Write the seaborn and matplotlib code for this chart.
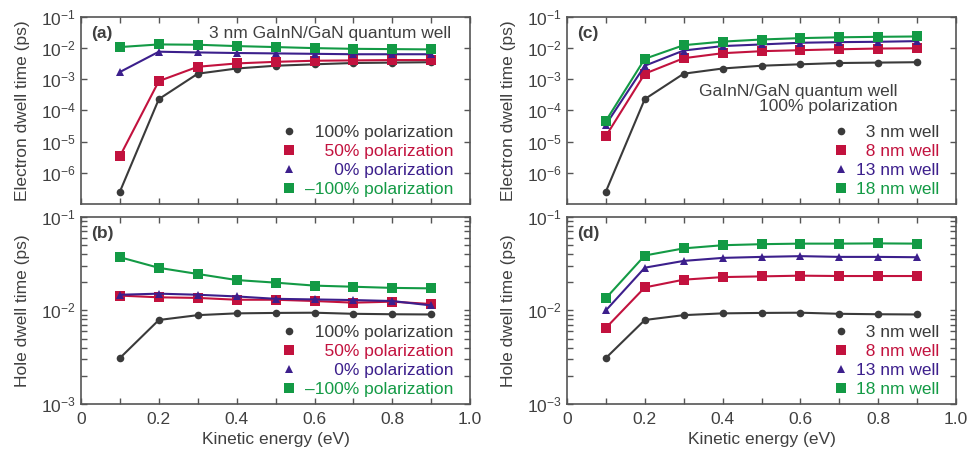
import matplotlib
matplotlib.use('Agg')
import matplotlib.pyplot as plt
import matplotlib.ticker as mticker
from matplotlib.lines import Line2D
import numpy as np
import pandas as pd
import seaborn as sns

# kinetic energy (eV)
energy = [0.1, 0.2, 0.3, 0.4, 0.5, 0.6, 0.7, 0.8, 0.9]

# (a) electron dwell time, 3 nm well, by polarization
e_pol100 = [2.5e-7, 2.3e-4, 1.5e-3, 2.2e-3, 2.7e-3, 3.0e-3, 3.3e-3, 3.4e-3, 3.5e-3]
e_pol50 = [3.4e-6, 8.7e-4, 2.5e-3, 3.2e-3, 3.6e-3, 3.9e-3, 4.0e-3, 4.1e-3, 4.1e-3]
e_pol0 = [1.7e-3, 7.6e-3, 7.2e-3, 6.9e-3, 6.7e-3, 6.5e-3, 6.3e-3, 6.3e-3, 6.3e-3]
e_polm100 = [1.07e-2, 1.3e-2, 1.27e-2, 1.15e-2, 1.07e-2, 9.9e-3, 9.4e-3, 9.2e-3, 9.0e-3]

# (b) hole dwell time, 3 nm well, by polarization
h_pol100 = [3.1e-3, 7.9e-3, 8.9e-3, 9.3e-3, 9.4e-3, 9.45e-3, 9.2e-3, 9.1e-3, 9.05e-3]
h_pol50 = [1.44e-2, 1.38e-2, 1.36e-2, 1.30e-2, 1.30e-2, 1.26e-2, 1.21e-2, 1.24e-2, 1.17e-2]
h_pol0 = [1.47e-2, 1.51e-2, 1.47e-2, 1.41e-2, 1.33e-2, 1.31e-2, 1.29e-2, 1.26e-2, 1.13e-2]
h_polm100 = [3.7e-2, 2.85e-2, 2.45e-2, 2.11e-2, 1.98e-2, 1.84e-2, 1.79e-2, 1.74e-2, 1.72e-2]

# (c) electron dwell time, 100% polarization, by well width
e_w3 = e_pol100
e_w8 = [1.5e-5, 1.5e-3, 4.7e-3, 6.8e-3, 7.9e-3, 8.5e-3, 9.1e-3, 9.6e-3, 9.8e-3]
e_w13 = [3.5e-5, 2.7e-3, 8.3e-3, 1.15e-2, 1.3e-2, 1.47e-2, 1.54e-2, 1.58e-2, 1.66e-2]
e_w18 = [4.6e-5, 4.5e-3, 1.23e-2, 1.6e-2, 1.87e-2, 2.07e-2, 2.2e-2, 2.28e-2, 2.34e-2]

# (d) hole dwell time, 100% polarization, by well width
h_w3 = h_pol100
h_w8 = [6.5e-3, 1.76e-2, 2.13e-2, 2.27e-2, 2.31e-2, 2.35e-2, 2.33e-2, 2.33e-2, 2.33e-2]
h_w13 = [1.0e-2, 2.86e-2, 3.38e-2, 3.64e-2, 3.73e-2, 3.8e-2, 3.73e-2, 3.73e-2, 3.7e-2]
h_w18 = [1.35e-2, 3.86e-2, 4.6e-2, 4.97e-2, 5.1e-2, 5.17e-2, 5.17e-2, 5.2e-2, 5.17e-2]

pol_labels = ['100% polarization', '50% polarization', '0% polarization', '\u2013100% polarization']
well_labels = ['3 nm well', '8 nm well', '13 nm well', '18 nm well']
# padding so the legend texts line up on the right
pol_pad = ['  ', '    ', '      ', '']
well_pad = ['  ', '  ', '', '']

colors = ['#3a3a3a', '#c2123e', '#3c1f8c', '#139a45']
markers = ['o', 's', '^', 's']
msizes = [5.5, 7, 6, 7]

sns.set_style('ticks')
plt.rcParams['font.family'] = ['Liberation Sans', 'DejaVu Sans']
plt.rcParams['mathtext.default'] = 'regular'
plt.rcParams['xtick.direction'] = 'in'
plt.rcParams['ytick.direction'] = 'in'
plt.rcParams['axes.edgecolor'] = '#555555'
plt.rcParams['text.color'] = '#404040'
plt.rcParams['axes.labelcolor'] = '#404040'
plt.rcParams['xtick.color'] = '#555555'
plt.rcParams['ytick.color'] = '#555555'
plt.rcParams['xtick.labelcolor'] = '#404040'
plt.rcParams['ytick.labelcolor'] = '#404040'

fs = 12.5
fig = plt.figure(figsize=(9.68, 4.5), dpi=100)

W = 0.402
H = 0.416
ax_a = fig.add_axes([0.0837, 0.5467, W, H])
ax_b = fig.add_axes([0.0837, 0.1022, W, H])
ax_c = fig.add_axes([0.5857, 0.5467, W, H])
ax_d = fig.add_axes([0.5857, 0.1022, W, H])


def draw(ax, series, labels):
    df = pd.DataFrame({
        'energy': energy * len(series),
        'time': np.concatenate(series),
        'series': np.repeat(labels, len(energy)),
    })
    sns.lineplot(data=df, x='energy', y='time', hue='series', style='series',
                 palette=dict(zip(labels, colors)), markers=dict(zip(labels, markers)),
                 dashes=False, legend=False, ax=ax, lw=1.5, markeredgewidth=0,
                 estimator=None, sort=False)
    for line, ms in zip(ax.lines, msizes):
        line.set_markersize(ms)


def style(ax, electron, bottom):
    ax.set_yscale('log')
    ax.set_xlim(0, 1.0)
    if electron:
        ax.set_ylim(1e-7, 1e-1)
        ax.set_yticks([1e-6, 1e-5, 1e-4, 1e-3, 1e-2, 1e-1])
        ax.yaxis.set_minor_locator(mticker.NullLocator())
        ax.set_ylabel('Electron dwell time (ps)', fontsize=fs, labelpad=8)
    else:
        ax.set_ylim(1e-3, 1e-1)
        ax.set_yticks([1e-3, 1e-2, 1e-1])
        ax.yaxis.set_minor_locator(mticker.LogLocator(base=10, subs=np.arange(2, 10)))
        ax.yaxis.set_minor_formatter(mticker.NullFormatter())
        ax.set_ylabel('Hole dwell time (ps)', fontsize=fs, labelpad=8)
    ax.yaxis.set_major_formatter(mticker.LogFormatterSciNotation())
    ax.xaxis.set_major_locator(mticker.MultipleLocator(0.2))
    ax.xaxis.set_minor_locator(mticker.MultipleLocator(0.1))
    ax.xaxis.set_major_formatter(mticker.FuncFormatter(lambda v, p: '0' if abs(v) < 1e-9 else f'{v:.1f}'))
    ax.tick_params(which='both', top=True, right=True, labelsize=fs, width=1.0)
    ax.tick_params(which='major', length=4.5)
    ax.tick_params(which='minor', length=4 if not electron else 0)
    ax.tick_params(axis='x', which='minor', length=4.5)
    ax.tick_params(axis='x', which='major', pad=6)
    if bottom:
        ax.set_xlabel('Kinetic energy (eV)', fontsize=fs, labelpad=3)
    else:
        ax.set_xlabel('')
        ax.tick_params(axis='x', labelbottom=False)
    for s in ax.spines.values():
        s.set_linewidth(1.2)


def legend(ax, labels, pads):
    handles = [Line2D([], [], ls='none', marker=m, color=c, ms=ms, mew=0)
               for m, c, ms in zip(markers, colors, msizes)]
    leg = ax.legend(handles, [p + l for p, l in zip(pads, labels)], loc='lower right',
                    bbox_to_anchor=(0.982, -0.012),
                    frameon=False, fontsize=fs, handlelength=0.8, handletextpad=0.5,
                    labelspacing=0.22, borderaxespad=0.25, borderpad=0.3)
    for t, c in zip(leg.get_texts(), colors):
        t.set_color(c)


draw(ax_a, [e_pol100, e_pol50, e_pol0, e_polm100], pol_labels)
draw(ax_b, [h_pol100, h_pol50, h_pol0, h_polm100], pol_labels)
draw(ax_c, [e_w3, e_w8, e_w13, e_w18], well_labels)
draw(ax_d, [h_w3, h_w8, h_w13, h_w18], well_labels)

style(ax_a, True, False)
style(ax_b, False, True)
style(ax_c, True, False)
style(ax_d, False, True)

legend(ax_a, pol_labels, pol_pad)
legend(ax_b, pol_labels, pol_pad)
legend(ax_c, well_labels, well_pad)
legend(ax_d, well_labels, well_pad)

for ax, tag in zip([ax_a, ax_b, ax_c, ax_d], ['(a)', '(b)', '(c)', '(d)']):
    ax.text(0.025, 0.91, tag, transform=ax.transAxes, fontsize=fs, fontweight='bold',
            va='center', ha='left')

ax_a.text(0.95, 0.91, '3 nm GaInN/GaN quantum well', transform=ax_a.transAxes,
          fontsize=fs, ha='right', va='center')
ax_c.text(0.85, 0.56, 'GaInN/GaN quantum well\n100% polarization', transform=ax_c.transAxes,
          fontsize=fs, ha='right', va='center', multialignment='right', linespacing=0.95)

fig.savefig('out.png', dpi=100)
